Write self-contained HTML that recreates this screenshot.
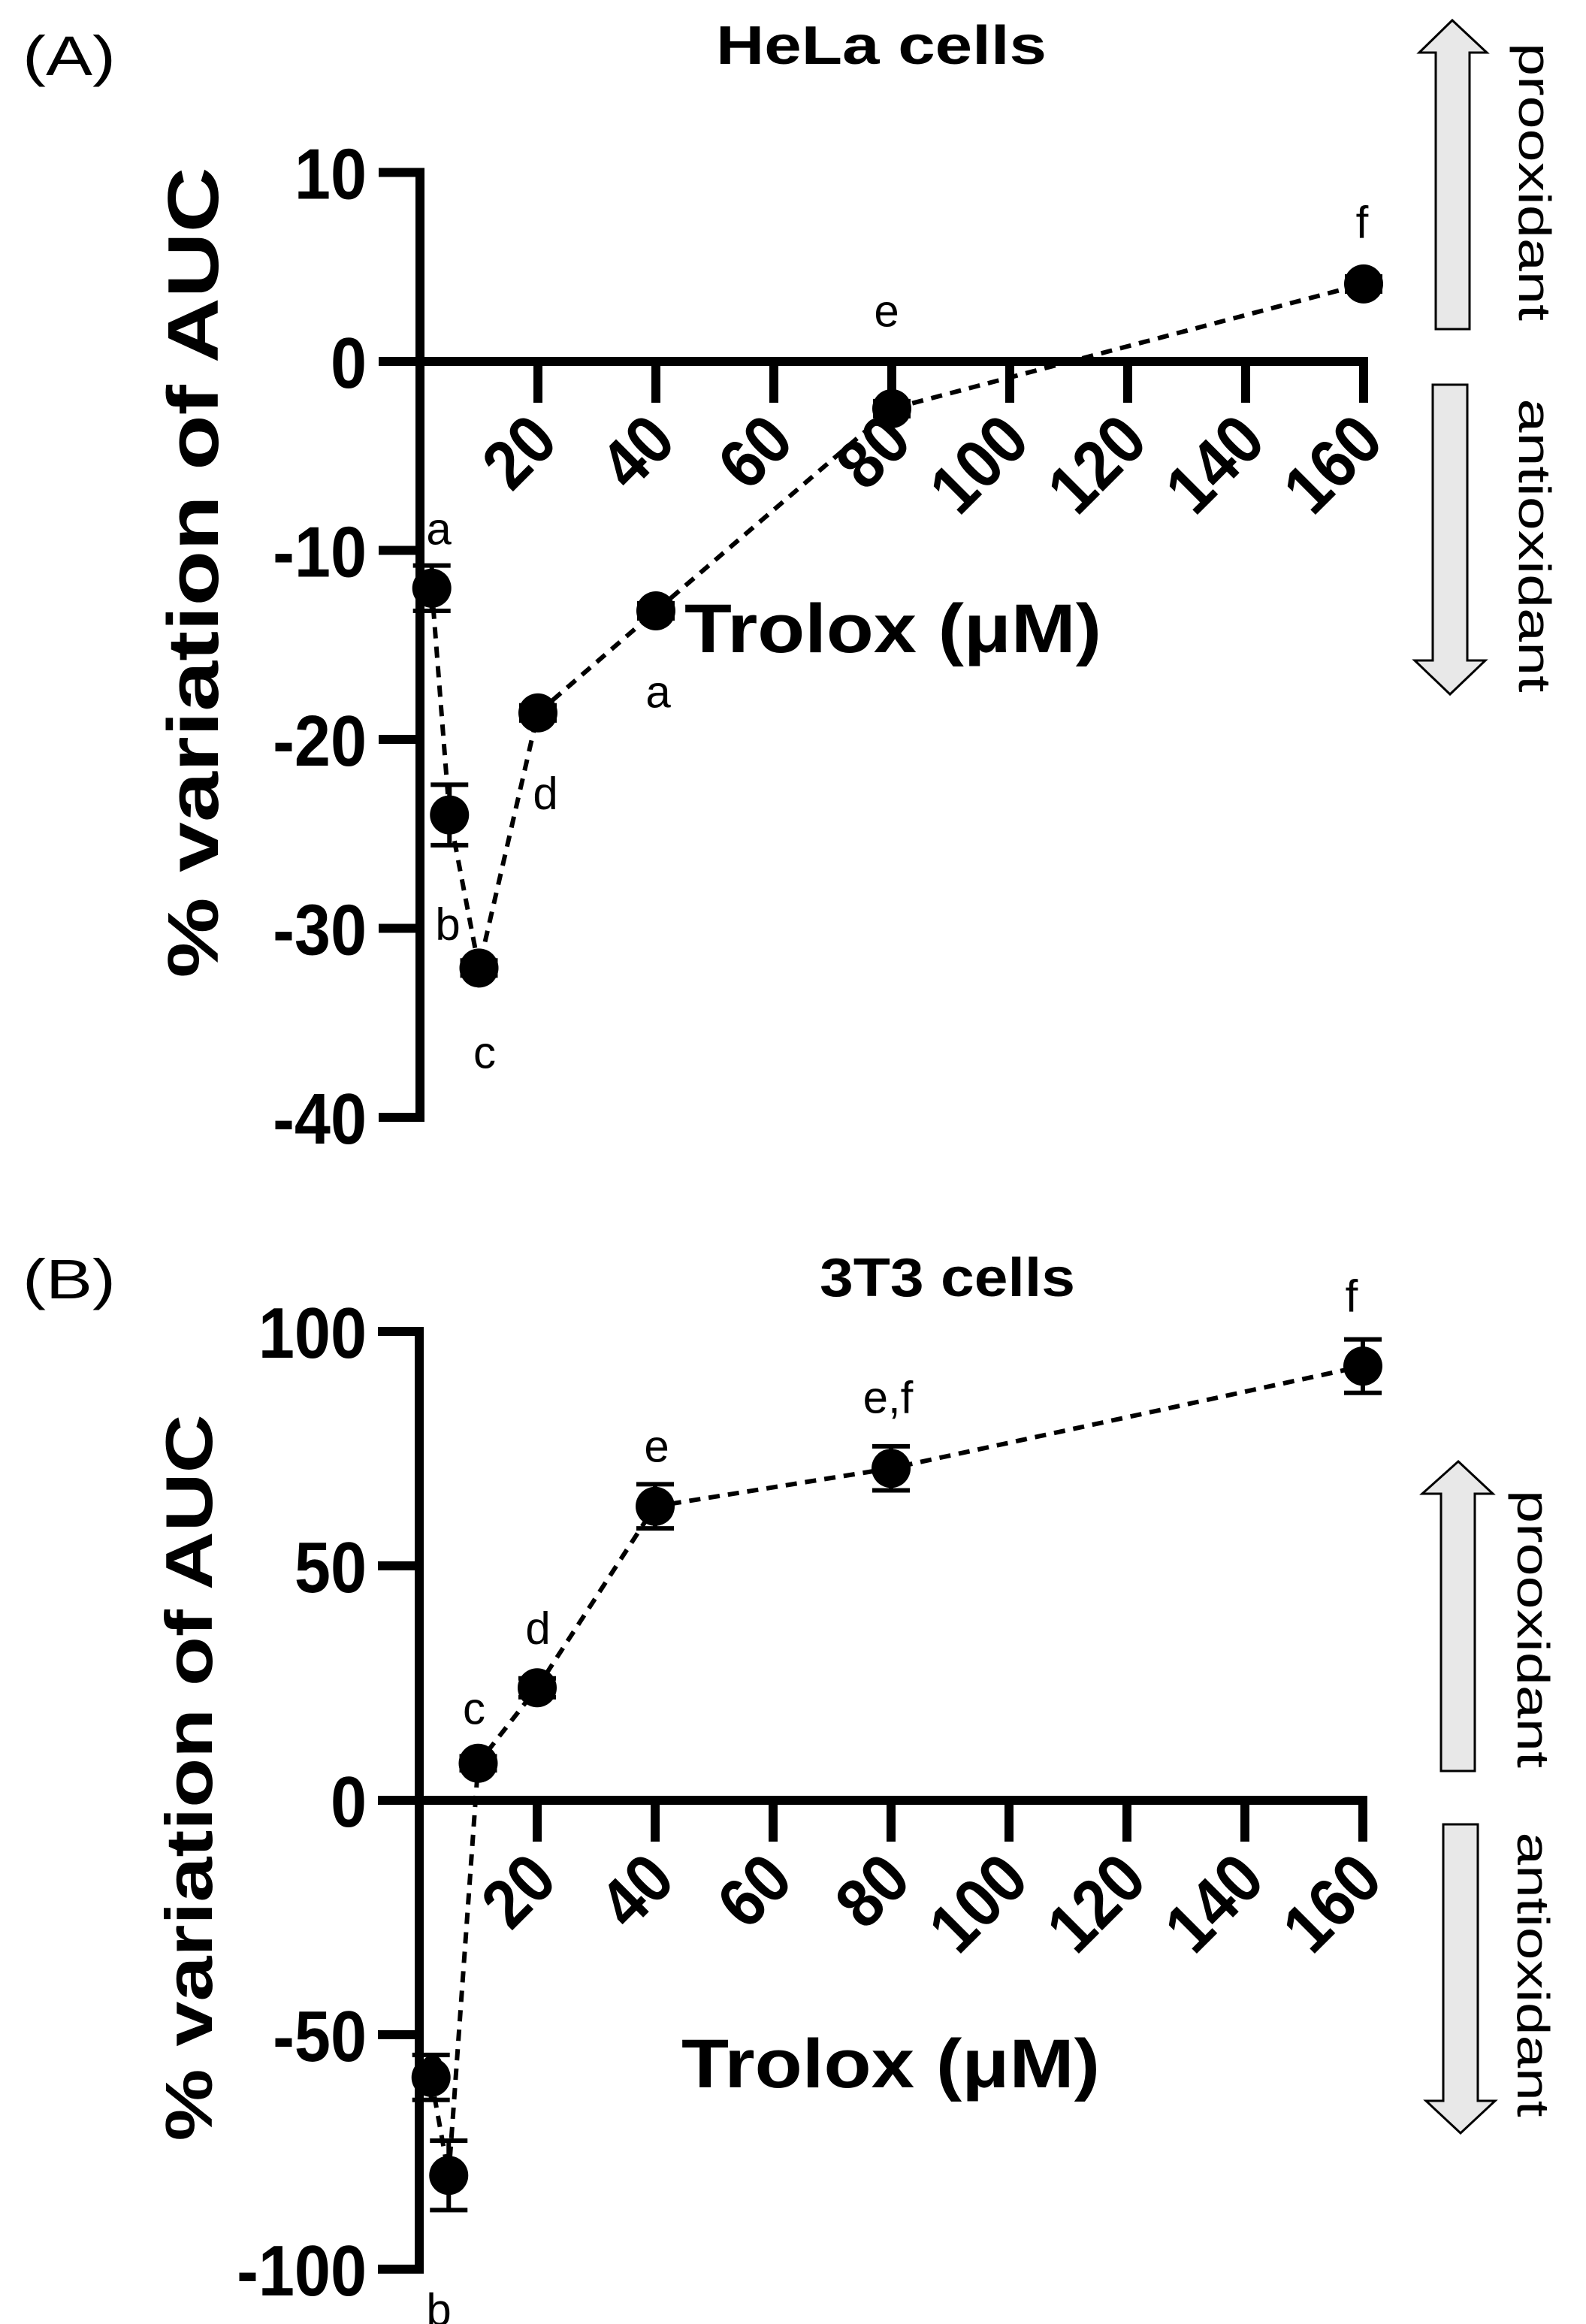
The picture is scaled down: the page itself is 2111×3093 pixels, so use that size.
<!DOCTYPE html>
<html><head><meta charset="utf-8">
<style>
html,body{margin:0;padding:0;background:#fff;}
svg{display:block;}
text{font-family:"Liberation Sans",sans-serif;fill:#000;}
.b{font-weight:bold;}
</style></head>
<body>
<svg id="fig" width="2111" height="3093" viewBox="0 0 2111 3093" xmlns="http://www.w3.org/2000/svg">
<rect width="2111" height="3093" fill="#fff"/>
<text x="30" y="100" font-size="74" textLength="124" lengthAdjust="spacingAndGlyphs">(A)</text>
<text class="b" x="953" y="85" font-size="72" textLength="440" lengthAdjust="spacingAndGlyphs">HeLa cells</text>
<text class="b" font-size="96" text-anchor="middle" textLength="1079" lengthAdjust="spacingAndGlyphs" transform="translate(290,762) rotate(-90)">% variation of AUC</text>
<text class="b" x="911" y="868" font-size="92" textLength="555" lengthAdjust="spacingAndGlyphs">Trolox (μM)</text>
<text x="30" y="1728" font-size="74" textLength="124" lengthAdjust="spacingAndGlyphs">(B)</text>
<text class="b" x="1091" y="1725" font-size="72" textLength="340" lengthAdjust="spacingAndGlyphs">3T3 cells</text>
<text class="b" font-size="88" text-anchor="middle" textLength="967" lengthAdjust="spacingAndGlyphs" transform="translate(282,2366) rotate(-90)">% variation of AUC</text>
<text class="b" x="907" y="2778" font-size="92" textLength="557" lengthAdjust="spacingAndGlyphs">Trolox (μM)</text>
<polygon points="1933,27 1979,70 1956,70 1956,438 1911,438 1911,70 1889,70" fill="#e8e8e8" stroke="#000" stroke-width="3"/>
<polygon points="1907,512 1953,512 1953,879 1977,879 1930,924 1883,879 1907,879" fill="#e8e8e8" stroke="#000" stroke-width="3"/>
<text font-size="60" text-anchor="middle" textLength="370" lengthAdjust="spacingAndGlyphs" transform="translate(2022,242) rotate(90)">prooxidant</text>
<text font-size="60" text-anchor="middle" textLength="391" lengthAdjust="spacingAndGlyphs" transform="translate(2022,726) rotate(90)">antioxidant</text>
<polygon points="1941,1945 1987,1988 1963,1988 1963,2357 1918,2357 1918,1988 1893,1988" fill="#e8e8e8" stroke="#000" stroke-width="3"/>
<polygon points="1921,2428 1967,2428 1967,2796 1990,2796 1944,2839 1898,2796 1921,2796" fill="#e8e8e8" stroke="#000" stroke-width="3"/>
<text font-size="60" text-anchor="middle" textLength="370" lengthAdjust="spacingAndGlyphs" transform="translate(2020,2168) rotate(90)">prooxidant</text>
<text font-size="60" text-anchor="middle" textLength="379" lengthAdjust="spacingAndGlyphs" transform="translate(2020,2628) rotate(90)">antioxidant</text>
<g id="chartA"></g>
<g id="chartB"></g>
</svg>
<script>
const xValues = [2, 5, 10, 20, 40, 80, 160];
const xTicks = [20, 40, 60, 80, 100, 120, 140, 160];
const helaMeans = [-12, -24, -32.1, -18.6, -13.2, -2.5, 4.1];
const helaErrors = [1.2, 1.6, 0.4, 0.4, 0.4, 0.4, 0.4];
const helaLetters = ["a", "b", "c", "d", "a", "e", "f"];
const helaYTicks = [10, 0, -10, -20, -30, -40];
const t3Means = [-59.1, -80, 7.9, 24, 62.7, 70.8, 92.6];
const t3Errors = [4.8, 7.4, 1.5, 2, 4.7, 4.7, 5.7];
const t3Letters = ["a", "b", "c", "d", "e", "e,f", "f"];
const t3YTicks = [100, 50, 0, -50, -100];

const NS = "http://www.w3.org/2000/svg";
function mk(tag, attrs, parent){
  const e = document.createElementNS(NS, tag);
  for (const k in attrs) e.setAttribute(k, attrs[k]);
  parent.appendChild(e);
  return e;
}

function drawPanel(g, cfg){
  const xs = v => cfg.x0 + v * cfg.kx;
  const ys = v => cfg.y0 - v * cfg.ky;
  const yTop = ys(cfg.yTicks[0]), yBot = ys(cfg.yTicks[cfg.yTicks.length-1]);
  const ya = mk("line", {x1:cfg.x0, x2:cfg.x0, y1:yTop-6, y2:yBot+6, stroke:"#000","stroke-width":12}, g);
  
  
  cfg.yTicks.forEach(t => {
    const tk = mk("line", {x1:cfg.x0-55, x2:cfg.x0, y1:ys(t), y2:ys(t), stroke:"#000","stroke-width":12}, g);
    
    
    const tl = mk("text", {"font-size":96, "font-weight":"bold", "text-anchor":"end",
      transform:`translate(488,${ys(t)+35}) scale(0.9,1)`}, g);
    tl.textContent = String(t);
    
    
  });
  const xEnd = xs(xTicks[xTicks.length-1]);
  const xa = mk("line", {x1:cfg.x0, x2:xEnd+6, y1:cfg.y0, y2:cfg.y0, stroke:"#000","stroke-width":12}, g);
  
  
  xTicks.forEach(t => {
    const tk = mk("line", {x1:xs(t), x2:xs(t), y1:cfg.y0, y2:cfg.y0+55, stroke:"#000","stroke-width":12}, g);
    
    
    const tl = mk("text", {"font-size":92, "font-weight":"bold", "text-anchor":"end",
      transform:`translate(${xs(t)+30},${cfg.y0+110}) rotate(-45) scale(0.9,1)`}, g);
    tl.textContent = String(t);
    
    
  });
  const pts = xValues.map((v,i) => `${xs(v)},${ys(cfg.means[i])}`).join(" ");
  const pl = mk("polyline", {points:pts, fill:"none", stroke:"#000","stroke-width":6,"stroke-dasharray":"15 11"}, g);
  
  
  xValues.forEach((v,i) => {
    const cx = xs(v), cy = ys(cfg.means[i]);
    const hi = ys(cfg.means[i] + cfg.errs[i]), lo = ys(cfg.means[i] - cfg.errs[i]);
    const eb = mk("path", {d:`M${cx},${hi}V${lo}M${cx-25},${hi}H${cx+25}M${cx-25},${lo}H${cx+25}`, stroke:"#000","stroke-width":6, fill:"none"}, g);
    
    
    const c = mk("circle", {cx:cx, cy:cy, r:26, fill:"#000"}, g);
    
    
    const lp = cfg.letterPos[i];
    const lt = mk("text", {x:lp[0], y:lp[1], "font-size":60, "text-anchor":"middle", "dominant-baseline":"central"}, g);
    lt.textContent = cfg.letters[i];
    
    
  });
}

drawPanel(document.getElementById("chartA"), {
  x0:559, kx:7.85, y0:481, ky:25.15,
  yTicks: helaYTicks, means: helaMeans, errs: helaErrors, letters: helaLetters,
  letterPos: [[584,704],[596,1230],[645,1401],[726,1056],[876,921],[1180,414],[1813,296]]
});
drawPanel(document.getElementById("chartB"), {
  x0:558, kx:7.85, y0:2396, ky:6.24,
  yTicks: t3YTicks, means: t3Means, errs: t3Errors, letters: t3Letters,
  letterPos: [[576,2748],[584,3074],[631,2274],[716,2167],[874,1925],[1182,1860],[1799,1725]]
});
</script>
</body></html>
